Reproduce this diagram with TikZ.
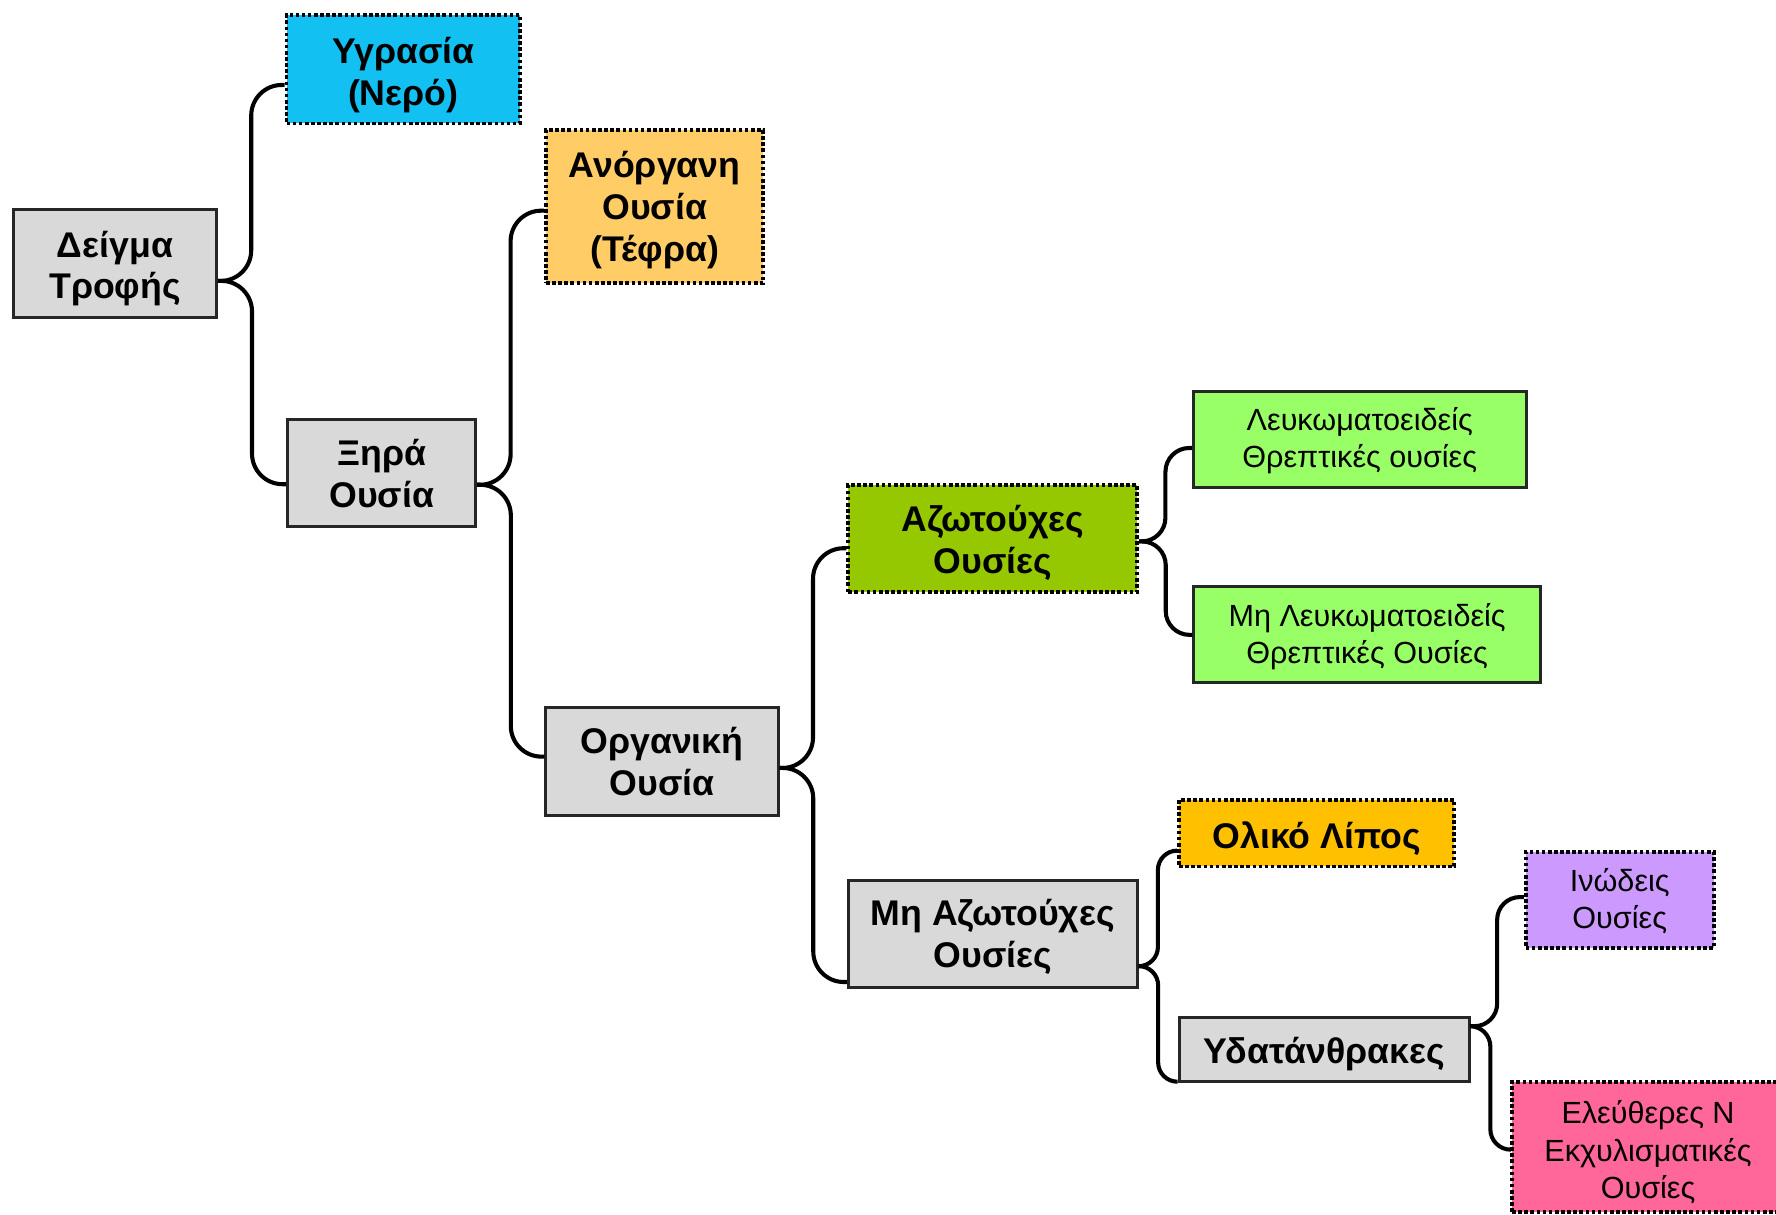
\documentclass[tikz,border=0pt]{standalone}
\usepackage{fontspec}
\setmainfont{Liberation Sans}
\usetikzlibrary{calc}

\definecolor{boxgray}{HTML}{D9D9D9}
\definecolor{watercyan}{HTML}{12C0F2}
\definecolor{ashorange}{HTML}{FFCC66}
\definecolor{nitrogreen}{HTML}{96C800}
\definecolor{lightgreen}{HTML}{99FF66}
\definecolor{fatyellow}{HTML}{FFC000}
\definecolor{fibrelilac}{HTML}{CC99FF}
\definecolor{extractpink}{HTML}{FF6699}
\definecolor{edge}{HTML}{262626}

% centred lines of a box label; the optional space padded above them
% lowers the label by half that amount inside its box
\newcommand{\boxlines}[2][9pt]{%
  \raisebox{0pt}[\dimexpr\height+#1\relax][\depth]{\begin{tabular}{@{}c@{}}#2\end{tabular}}}

\tikzset{
  box/.style={rectangle, inner sep=0pt, text=black},
  solidbox/.style={box, draw=edge, line width=2.6pt},
  dotbox/.style={box, draw=black, line width=3.4pt, dash pattern=on 3.2pt off 2.2pt},
  bigtext/.style={font=\fontsize{31.5}{37}\selectfont\bfseries},
  smalltext/.style={font=\fontsize{27}{33}\selectfont},
  conn/.style={draw=black, line width=3.6pt, rounded corners=#1},
  conn/.default=27pt
}

\begin{document}
\begin{tikzpicture}[x=1pt, y=-1pt]
  \useasboundingbox (0,0) rectangle (1568,1072);
  \fill[white] (0,0) rectangle (1568,1072);
  \clip (0,0) rectangle (1568,1072);

  % level 0
  \node[solidbox, bigtext, fill=boxgray, minimum width=179pt, minimum height=95pt]
    (deigma) at (101.5,232.5) {\boxlines[11pt]{Δείγμα\\Τροφής}};

  % level 1
  \node[dotbox, bigtext, fill=watercyan, minimum width=206pt, minimum height=96pt]
    (ygrasia) at (356,61) {\boxlines[12pt]{Υγρασία\\(Νερό)}};
  \node[solidbox, bigtext, fill=boxgray, minimum width=166pt, minimum height=95pt]
    (xira) at (337,417.5) {\boxlines[9pt]{Ξηρά\\Ουσία}};

  % level 2
  \node[dotbox, bigtext, fill=ashorange, minimum width=192pt, minimum height=135pt]
    (anorg) at (578,182.5) {\boxlines[8pt]{Ανόργανη\\Ουσία\\(Τέφρα)}};
  \node[solidbox, bigtext, fill=boxgray, minimum width=205pt, minimum height=95pt]
    (organ) at (584.5,672.5) {\boxlines[8pt]{Οργανική\\Ουσία}};

  % level 3
  \node[dotbox, bigtext, fill=nitrogreen, minimum width=255pt, minimum height=95pt]
    (azot) at (876.5,475.5) {\boxlines[9pt]{Αζωτούχες\\Ουσίες}};
  \node[solidbox, bigtext, fill=boxgray, minimum width=255pt, minimum height=95pt]
    (miazot) at (876.5,824.5) {\boxlines[8pt]{Μη Αζωτούχες\\Ουσίες}};

  % level 4
  \node[solidbox, smalltext, fill=lightgreen, minimum width=294pt, minimum height=85pt]
    (leuk) at (1200.5,388) {\boxlines[4pt]{Λευκωματοειδείς\\Θρεπτικές ουσίες}};
  \node[solidbox, smalltext, fill=lightgreen, minimum width=306pt, minimum height=85pt]
    (mileuk) at (1207,560) {\boxlines[6pt]{Μη Λευκωματοειδείς\\Θρεπτικές Ουσίες}};
  \node[dotbox, bigtext, fill=fatyellow, minimum width=243pt, minimum height=59pt]
    (oliko) at (1162.5,735.5) {\boxlines[12pt]{Ολικό Λίπος}};
  \node[solidbox, bigtext, fill=boxgray, minimum width=256pt, minimum height=57pt]
    (ydat) at (1169,926.5) {\boxlines[10pt]{Υδατάνθρακες}};

  % level 5
  \node[dotbox, smalltext, fill=fibrelilac, minimum width=166pt, minimum height=85pt]
    (inod) at (1430,794.5) {\boxlines[5pt]{Ινώδεις\\Ουσίες}};
  \node[dotbox, smalltext, fill=extractpink, minimum width=243pt, minimum height=115pt]
    (elef) at (1456.5,1012.5) {\hspace*{-3pt}\boxlines[12pt]{Ελεύθερες Ν\\Εκχυλισματικές\\Ουσίες}};

  % brace-shaped connectors: tip on the parent, ends on the children
  \coordinate (tDeigma) at ([yshift=-15.5pt]deigma.east);
  \coordinate (eYgrasia) at ([yshift=-14pt]ygrasia.west);
  \coordinate (eXira) at ([yshift=-10pt]xira.west);
  \draw[conn] (tDeigma) -| ($(tDeigma)!0.5!(eYgrasia)$) |- (eYgrasia);
  \draw[conn] (tDeigma) -| ($(tDeigma)!0.5!(eXira)$) |- (eXira);

  \coordinate (tXira) at ([yshift=-10.5pt]xira.east);
  \coordinate (eAnorg) at ([yshift=-3.5pt]anorg.west);
  \coordinate (eOrgan) at ([yshift=4.5pt]organ.west);
  \draw[conn] (tXira) -| ($(tXira)!0.5!(eAnorg)$) |- (eAnorg);
  \draw[conn] (tXira) -| ($(tXira)!0.5!(eOrgan)$) |- (eOrgan);

  \coordinate (tOrgan) at ([yshift=-5.5pt]organ.east);
  \coordinate (eAzot) at ([yshift=-8.5pt]azot.west);
  \coordinate (eMiazot) at ([yshift=-42.5pt]miazot.west);
  \draw[conn] (tOrgan) -| ($(tOrgan)!0.5!(eAzot)$) |- (eAzot);
  \draw[conn] (tOrgan) -| ($(tOrgan)!0.5!(eMiazot)$) |- (eMiazot);

  \coordinate (tAzot) at ([yshift=-2.5pt]azot.east);
  \coordinate (eLeuk) at ([yshift=-7.5pt]leuk.west);
  \coordinate (eMileuk) at ([yshift=-0.5pt]mileuk.west);
  \draw[conn=21pt] (tAzot) -| ($(tAzot)!0.5!(eLeuk)$) |- (eLeuk);
  \draw[conn=21pt] (tAzot) -| ($(tAzot)!0.5!(eMileuk)$) |- (eMileuk);

  \coordinate (tMiazot) at ([yshift=-28.5pt]miazot.east);
  \coordinate (eOliko) at ([yshift=-15.5pt]oliko.west);
  \coordinate (eYdat) at ([yshift=-28.5pt]ydat.west);
  \draw[conn=17pt] (tMiazot) -| ($(tMiazot)!0.5!(eOliko)$) |- (eOliko);
  \draw[conn=17pt] (tMiazot) -| ($(tMiazot)!0.5!(eYdat)$) |- (eYdat);

  \coordinate (tYdat) at ([yshift=20.5pt]ydat.east);
  \coordinate (eInod) at ([yshift=2.5pt]inod.west);
  \coordinate (eElef) at ([yshift=-2.5pt]elef.west);
  \draw[conn=20pt] (tYdat) -| ($(tYdat)!0.5!(eInod)$) |- (eInod);
  \draw[conn=18pt] (tYdat) -| ($(tYdat)!0.5!(eElef)$) |- (eElef);
\end{tikzpicture}
\end{document}
